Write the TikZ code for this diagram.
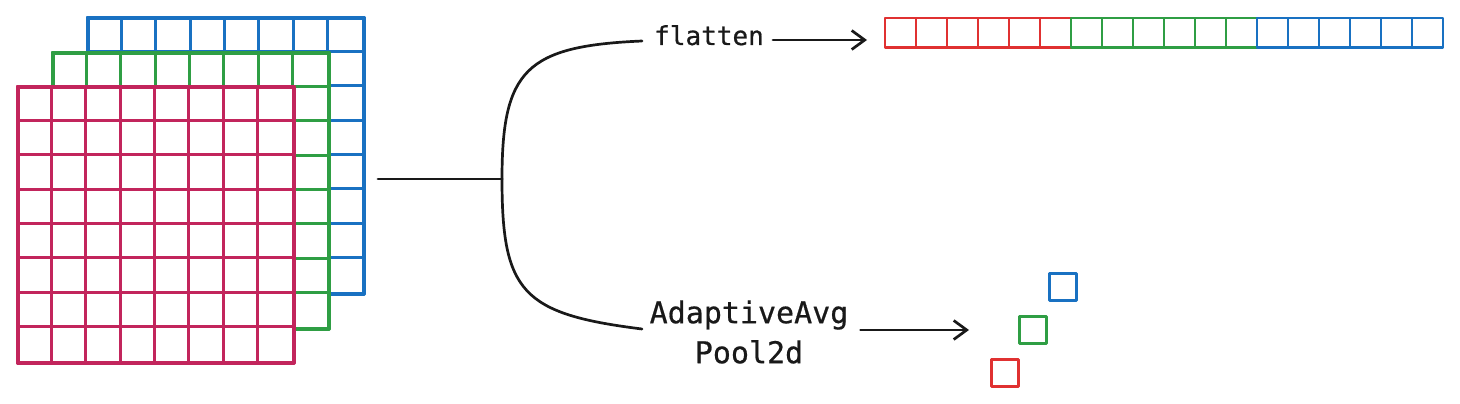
\documentclass[tikz,border=0pt]{standalone}
\usepackage{fontspec}
\setmonofont[FakeBold=0.6]{DejaVu Sans Mono}
\usetikzlibrary{arrows.meta,calc}
\definecolor{gred}{HTML}{C2255C}
\definecolor{ggreen}{HTML}{2F9E44}
\definecolor{gblue}{HTML}{1971C2}
\definecolor{fred}{HTML}{E03131}
\tikzset{
  gridframe/.style={draw=#1, line width=2.8pt, fill=white, minimum width=275pt, minimum height=275pt, inner sep=0pt, anchor=north west},
  gridline/.style={draw=#1, line width=2.8pt},
  cellline/.style={draw=#1, line width=2.8pt},
  sq/.style={draw=#1, line width=3pt, minimum width=27pt, minimum height=27pt, inner sep=0pt},
  conn/.style={line width=2.7pt, black!90, line cap=round},
  arr/.style={conn, -{Straight Barb[length=13pt, width=19pt, line width=2.7pt]}},
  lblsmall/.style={font=\ttfamily\fontsize{26}{30}\selectfont, inner sep=0pt, text=black!90},
  lblbig/.style={font=\ttfamily\fontsize{30}{40}\selectfont, inner sep=0pt, align=center, text=black!90},
}
\newcommand\featmap[2]{%
  \foreach \i in {1,...,7} {
    \draw[gridline=#2] ($(#1.north west)+(\i*34.375,0)$) -- ($(#1.south west)+(\i*34.375,0)$);
    \draw[gridline=#2] ($(#1.north west)+(0,\i*34.375)$) -- ($(#1.north east)+(0,\i*34.375)$);
  }
  \draw[gridline=#2] (#1.north west) rectangle (#1.south east);
}
\begin{document}
\begin{tikzpicture}[x=1pt,y=-1pt, line join=round]
\useasboundingbox[fill=white] (0,0) rectangle (1460,404);

% stacked feature maps
\node[gridframe=gblue] (gb) at (87,17) {};
\featmap{gb}{gblue}
\node[gridframe=ggreen] (gg) at (52,52) {};
\featmap{gg}{ggreen}
\node[gridframe=gred] (gr) at (17,86) {};
\featmap{gr}{gred}

% connector and brace
\coordinate (lstart) at (378,179);
\coordinate (brk) at (502,179);
\coordinate (btop) at (642,41);
\coordinate (bbot) at (642,329);
\draw[conn] (lstart) -- (brk);
\draw[conn] (brk) .. controls (502,70) and (526,46) .. (btop);
\draw[conn] (brk) .. controls (502,292) and (522,314) .. (bbot);

% labels
\node[lblsmall, anchor=base] (ft) at (709,45) {flatten};
\node[lblbig, anchor=center] (pt) at (749,332) {AdaptiveAvg\\Pool2d};

% flattened strip
\node[inner sep=0pt, minimum width=558pt, minimum height=29.5pt, anchor=north west] (strip) at (885,18) {};
\foreach \k/\c in {0/fred,1/fred,2/fred,3/fred,4/fred,5/fred,6/ggreen,7/ggreen,8/ggreen,9/ggreen,10/ggreen,11/ggreen,12/gblue,13/gblue,14/gblue,15/gblue,16/gblue,17/gblue} {
  \draw[cellline=\c] ($(strip.north west)+(\k*31,0)$) rectangle ($(strip.south west)+(\k*31+31,0)$);
}

% pooled outputs
\node[sq=gblue] (sqb) at (1062.5,286.5) {};
\node[sq=ggreen] (sqg) at (1033,329.5) {};
\node[sq=fred] (sqr) at (1005,373) {};

% arrows
\draw[arr] ([shift={(9,-5)}]ft.base east) -- ([shift={(-18,-5)}]ft.base east -| strip.west);
\draw[arr, shorten <=12pt, shorten >=49pt] ([yshift=2]pt.east) -- ([yshift=2]pt.east -| sqg.west);
\end{tikzpicture}
\end{document}
